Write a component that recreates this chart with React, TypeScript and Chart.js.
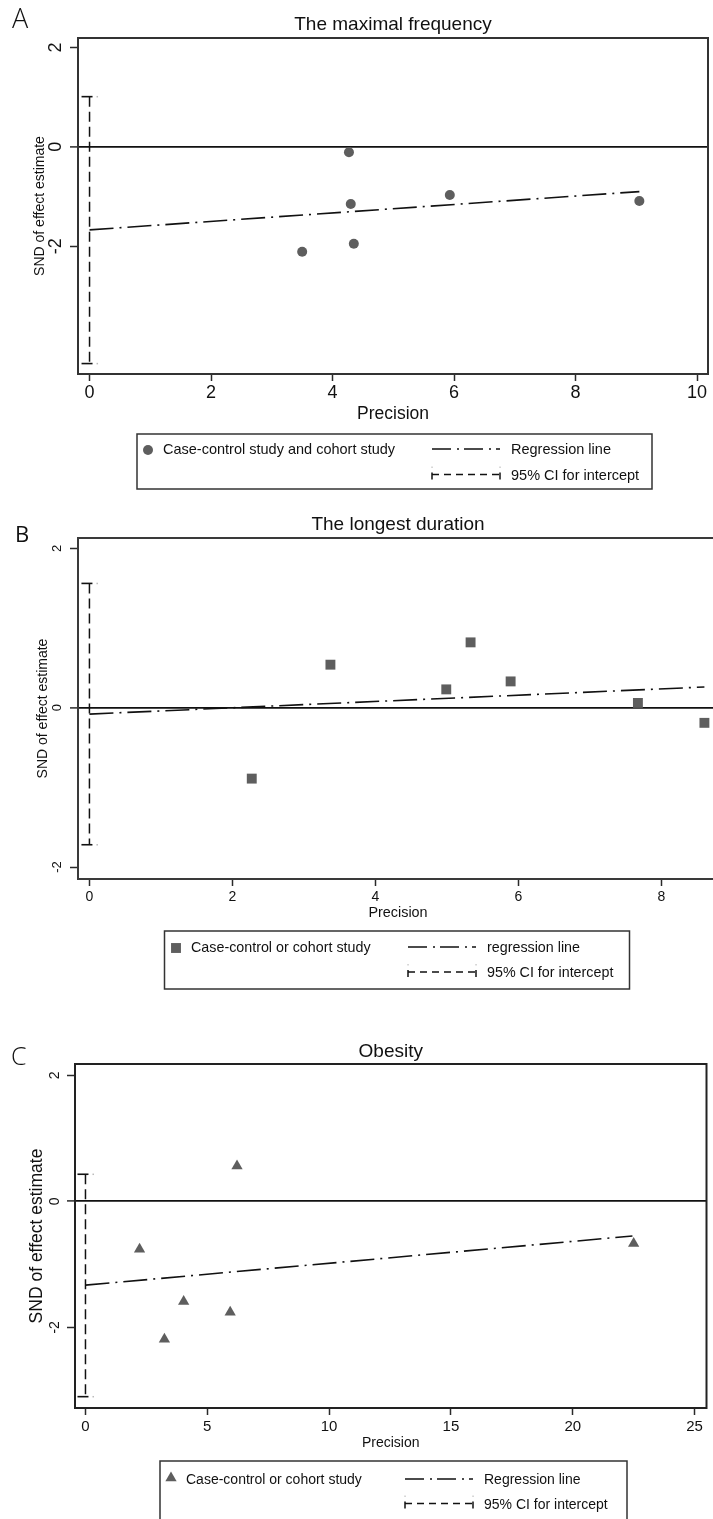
import React, { useEffect, useRef } from 'react';
import { Chart, registerables } from 'chart.js';

Chart.register(...registerables);

const FONT = "'Liberation Sans', Arial, Helvetica, sans-serif";
const LETTER_FONT = "'Open Sans', Lato, 'DejaVu Sans', sans-serif";
const TEXT = '#111111';
const AXIS = '#2a2a2a';
const MARKER = '#5e5e5e';
const CI_X = 0;

// ---------- Panel A : The maximal frequency ----------
const titleA = 'The maximal frequency';
const precisionA = [4.27, 5.93, 4.30, 9.05, 3.50, 4.35];
const sndA = [-0.11, -0.97, -1.15, -1.09, -2.11, -1.95];
const regressionXA = [0, 9.05];
const regressionYA = [-1.67, -0.90];
const ciInterceptA = [1.01, -4.36];
const xTicksA = [0, 2, 4, 6, 8, 10];
const yTicksA = [-2, 0, 2];
const legendA = ['Case-control study and cohort study', 'Regression line', '95% CI for intercept'];

// ---------- Panel B : The longest duration ----------
const titleB = 'The longest duration';
const precisionB = [3.37, 5.33, 4.99, 5.89, 7.67, 8.60, 2.27];
const sndB = [0.54, 0.82, 0.23, 0.33, 0.06, -0.19, -0.89];
const regressionXB = [0, 8.6];
const regressionYB = [-0.08, 0.26];
const ciInterceptB = [1.56, -1.72];
const xTicksB = [0, 2, 4, 6, 8];
const yTicksB = [-2, 0, 2];
const legendB = ['Case-control or cohort study', 'regression line', '95% CI for intercept'];

// ---------- Panel C : Obesity ----------
const titleC = 'Obesity';
const precisionC = [6.22, 2.22, 22.50, 4.03, 5.94, 3.24];
const sndC = [0.56, -0.76, -0.67, -1.59, -1.76, -2.19];
const regressionXC = [0, 22.45];
const regressionYC = [-1.33, -0.55];
const ciInterceptC = [0.43, -3.10];
const xTicksC = [0, 5, 10, 15, 20, 25];
const yTicksC = [-2, 0, 2];
const legendC = ['Case-control or cohort study', 'Regression line', '95% CI for intercept'];

const X_TITLE = 'Precision';
const Y_TITLE = 'SND of effect estimate';

// ---------- layout / style per panel ----------
const layoutA = {
  top: 0, width: 713, height: 500,
  area: { left: 78, top: 38, right: 711, bottom: 374 },
  xRange: [-0.19, 10.18], yRange: [-4.57, 2.19],
  marker: 'circle', markerRadius: 5,
  xTickFont: 18, yTickFont: 18, xTickPad: 1.7, yTickPad: 5.5, xTickLen: 7, yTickLen: 8,
  xTitleFont: 17.5, xTitleCenter: 414.5, yTitleFont: 14, yTitleCenter: 40,
  titleFont: 19, titleBaseline: 30,
  letter: 'A', letterX: 12, letterBaseline: 28, letterFont: 27, letterWeight: 300,
  borderColor: '#333',
  legend: { x: 137, y: 434, w: 515, h: 55, markerX: 148, markerY: 450, row1: 450, row2: 476, textX: 163, s1: 432, s2: 500, text2X: 511, font: 14.5 },
};
const layoutB = {
  top: 500, width: 725, height: 500,
  area: { left: 78, top: 38, right: 718, bottom: 379 },
  xRange: [-0.16, 8.79], yRange: [-2.15, 2.13],
  marker: 'rect', markerRadius: 7,
  xTickFont: 14, yTickFont: 13, xTickPad: 3.1, yTickPad: 7.2, xTickLen: 7, yTickLen: 8,
  xTitleFont: 14.4, xTitleCenter: 413, yTitleFont: 14, yTitleCenter: 43,
  titleFont: 19, titleBaseline: 30,
  letter: 'B', letterX: 15, letterBaseline: 42, letterFont: 22, letterWeight: 400,
  borderColor: '#3a3a3a',
  legend: { x: 164.5, y: 431, w: 465, h: 58, markerX: 176, markerY: 448, row1: 448, row2: 473.5, textX: 191, s1: 408, s2: 476, text2X: 487, font: 14.3 },
};
const layoutC = {
  top: 1000, width: 713, height: 519,
  area: { left: 75, top: 64, right: 711, bottom: 408 },
  xRange: [-0.43, 25.49], yRange: [-3.28, 2.18],
  marker: 'triangle', markerRadius: 6.5,
  xTickFont: 15, yTickFont: 14, xTickPad: 2.7, yTickPad: 5.3, xTickLen: 7, yTickLen: 8,
  xTitleFont: 14, xTitleCenter: 443, yTitleFont: 17.5, yTitleCenter: 37.5,
  titleFont: 19, titleBaseline: 57,
  letter: 'C', letterX: 11, letterBaseline: 65, letterFont: 25, letterWeight: 300,
  borderColor: '#222',
  legend: { x: 160, y: 461, w: 467, h: 120, markerX: 171, markerY: 478, row1: 480, row2: 505, textX: 186, s1: 405, s2: 473, text2X: 484, font: 14 },
};

const panels = [
  { title: titleA, xs: precisionA, ys: sndA, regX: regressionXA, regY: regressionYA, ci: ciInterceptA, xTicks: xTicksA, yTicks: yTicksA, legend: legendA, layout: layoutA },
  { title: titleB, xs: precisionB, ys: sndB, regX: regressionXB, regY: regressionYB, ci: ciInterceptB, xTicks: xTicksB, yTicks: yTicksB, legend: legendB, layout: layoutB },
  { title: titleC, xs: precisionC, ys: sndC, regX: regressionXC, regY: regressionYC, ci: ciInterceptC, xTicks: xTicksC, yTicks: yTicksC, legend: legendC, layout: layoutC },
];

function drawMarker(ctx: CanvasRenderingContext2D, style: string, x: number, y: number, r: number) {
  ctx.beginPath();
  if (style === 'circle') {
    ctx.arc(x, y, r, 0, Math.PI * 2);
  } else if (style === 'rect') {
    const h = r * Math.SQRT1_2;
    ctx.rect(x - h, y - h, 2 * h, 2 * h);
  } else {
    const s = r * Math.sin(Math.PI / 3);
    ctx.moveTo(x, y - r);
    ctx.lineTo(x + s, y + r / 2);
    ctx.lineTo(x - s, y + r / 2);
    ctx.closePath();
  }
  ctx.fill();
}

const decorPlugin = {
  id: 'decor',
  afterDatasetsDraw(chart: any, _args: any, opts: any) {
    const { ctx } = chart;
    const xs = chart.scales.x;
    const ys = chart.scales.y;
    const cx = xs.getPixelForValue(opts.ciX);
    ctx.save();
    ctx.lineWidth = 1.6;
    opts.ciValues.forEach((v: number) => {
      const py = ys.getPixelForValue(v);
      ctx.strokeStyle = '#111';
      ctx.beginPath();
      ctx.moveTo(cx - 8, py);
      ctx.lineTo(cx + 3, py);
      ctx.stroke();
      ctx.fillStyle = '#bbb';
      ctx.fillRect(cx + 7, py - 0.7, 1.5, 1.5);
    });
    ctx.restore();
  },
  afterDraw(chart: any, _args: any, opts: any) {
    const { ctx, chartArea: a } = chart;
    ctx.save();
    // plot region frame
    ctx.strokeStyle = opts.borderColor;
    ctx.lineWidth = 2;
    ctx.strokeRect(a.left, a.top, a.right - a.left, a.bottom - a.top);

    // title
    ctx.fillStyle = TEXT;
    ctx.textAlign = 'center';
    ctx.textBaseline = 'alphabetic';
    ctx.font = `${opts.titleFont}px ${FONT}`;
    ctx.fillText(opts.title, (a.left + a.right) / 2, opts.titleBaseline);

    // panel letter
    ctx.textAlign = 'left';
    ctx.font = `${opts.letterWeight} ${opts.letterFont}px ${LETTER_FONT}`;
    ctx.fillText(opts.letter, opts.letterX, opts.letterBaseline);

    // legend
    const L = opts.legendBox;
    ctx.strokeStyle = '#333';
    ctx.lineWidth = 1.5;
    ctx.strokeRect(L.x, L.y, L.w, L.h);

    ctx.fillStyle = MARKER;
    drawMarker(ctx, opts.marker, L.markerX, L.markerY, opts.markerRadius);

    ctx.fillStyle = TEXT;
    ctx.textBaseline = 'middle';
    ctx.textAlign = 'left';
    ctx.font = `${L.font}px ${FONT}`;
    ctx.fillText(opts.labels[0], L.textX, L.row1);
    ctx.fillText(opts.labels[1], L.text2X, L.row1);
    ctx.fillText(opts.labels[2], L.text2X, L.row2);

    // regression line sample
    ctx.strokeStyle = '#111';
    ctx.lineWidth = 1.6;
    ctx.setLineDash([19, 6, 2, 5]);
    ctx.beginPath();
    ctx.moveTo(L.s1, L.row1 - 1);
    ctx.lineTo(L.s2, L.row1 - 1);
    ctx.stroke();

    // CI sample
    const ly = L.row2 - 1.5;
    ctx.setLineDash([7, 5]);
    ctx.beginPath();
    ctx.moveTo(L.s1, ly);
    ctx.lineTo(L.s2, ly);
    ctx.stroke();
    ctx.setLineDash([]);
    ctx.lineWidth = 1.5;
    [L.s1, L.s2].forEach((sx: number) => {
      ctx.strokeStyle = '#111';
      ctx.beginPath();
      ctx.moveTo(sx, ly - 2);
      ctx.lineTo(sx, ly + 5);
      ctx.stroke();
      ctx.fillStyle = '#ccc';
      ctx.fillRect(sx - 0.7, ly - 8, 1.5, 1.5);
    });
    ctx.restore();
  },
};

function buildConfig(p: any) {
  const L = p.layout;
  const xTitleLH = L.xTitleFont * 1.2;
  const xh = L.xTitleCenter - L.area.bottom + xTitleLH / 2;
  const yTitleLH = L.yTitleFont * 1.2;
  return {
    type: 'scatter',
    data: {
      datasets: [
        {
          label: p.legend[0],
          data: p.xs.map((x: number, i: number) => ({ x, y: p.ys[i] })),
          pointStyle: L.marker,
          pointRadius: L.markerRadius,
          pointHoverRadius: L.markerRadius,
          backgroundColor: MARKER,
          borderColor: MARKER,
          pointBorderWidth: 0,
          showLine: false,
        },
        {
          label: p.legend[1],
          data: p.regX.map((x: number, i: number) => ({ x, y: p.regY[i] })),
          showLine: true,
          fill: false,
          pointRadius: 0,
          borderColor: '#111',
          borderWidth: 1.6,
          borderDash: [24, 6, 2, 6],
        },
        {
          label: p.legend[2],
          data: p.ci.map((y: number) => ({ x: CI_X, y })),
          showLine: true,
          fill: false,
          pointRadius: 0,
          borderColor: '#111',
          borderWidth: 1.5,
          borderDash: [10, 5],
        },
      ],
    },
    options: {
      responsive: false,
      animation: false,
      devicePixelRatio: 1,
      events: [],
      layout: {
        padding: {
          left: 0,
          top: L.area.top,
          right: L.width - L.area.right,
          bottom: L.height - L.area.bottom - xh,
        },
      },
      plugins: {
        legend: { display: false },
        tooltip: { enabled: false },
        title: { display: false },
        decor: {
          title: p.title,
          titleFont: L.titleFont,
          titleBaseline: L.titleBaseline,
          letter: L.letter,
          letterX: L.letterX,
          letterBaseline: L.letterBaseline,
          letterFont: L.letterFont,
          letterWeight: L.letterWeight,
          borderColor: L.borderColor,
          legendBox: L.legend,
          labels: p.legend,
          marker: L.marker,
          markerRadius: L.markerRadius,
          ciX: CI_X,
          ciValues: p.ci,
        },
      },
      scales: {
        x: {
          type: 'linear',
          position: 'bottom',
          min: L.xRange[0],
          max: L.xRange[1],
          afterBuildTicks: (s: any) => { s.ticks = p.xTicks.map((value: number) => ({ value })); },
          afterFit: (s: any) => { s.height = xh; },
          border: { display: false },
          grid: { drawOnChartArea: false, tickLength: L.xTickLen, tickColor: AXIS, tickWidth: 1.5 },
          ticks: {
            autoSkip: false, maxRotation: 0, minRotation: 0,
            padding: L.xTickPad,
            color: TEXT,
            font: { family: FONT, size: L.xTickFont },
            callback: (v: any) => String(v),
          },
          title: { display: true, text: X_TITLE, color: TEXT, font: { family: FONT, size: L.xTitleFont }, padding: 0 },
        },
        y: {
          type: 'linear',
          position: 'left',
          min: L.yRange[0],
          max: L.yRange[1],
          afterBuildTicks: (s: any) => { s.ticks = p.yTicks.map((value: number) => ({ value })); },
          afterFit: (s: any) => { s.width = L.area.left; },
          border: { display: false },
          grid: {
            color: (c: any) => (c.tick && c.tick.value === 0 ? '#111' : 'rgba(0,0,0,0)'),
            lineWidth: (c: any) => (c.tick && c.tick.value === 0 ? 1.8 : 1),
            tickLength: L.yTickLen, tickColor: AXIS, tickWidth: 1.5,
          },
          ticks: {
            autoSkip: false, minRotation: 90, maxRotation: 90, crossAlign: 'center',
            padding: L.yTickPad,
            color: TEXT,
            font: { family: FONT, size: L.yTickFont },
            callback: (v: any) => String(v),
          },
          title: {
            display: true, text: Y_TITLE, color: TEXT,
            font: { family: FONT, size: L.yTitleFont },
            padding: { top: L.yTitleCenter - yTitleLH / 2, bottom: 0 },
          },
        },
      },
    },
    plugins: [decorPlugin],
  };
}

function Panel({ p }: { p: any }) {
  const ref = useRef<HTMLCanvasElement>(null);
  useEffect(() => {
    if (!ref.current) return;
    const chart = new Chart(ref.current, buildConfig(p) as any);
    return () => chart.destroy();
  }, [p]);
  const L = p.layout;
  return (
    <canvas
      ref={ref}
      width={L.width}
      height={L.height}
      style={{ position: 'absolute', left: 0, top: L.top, width: L.width, height: L.height }}
    />
  );
}

export default function App() {
  return (
    <div style={{ position: 'absolute', left: 0, top: 0, width: 713, height: 1519, overflow: 'hidden', background: '#fff' }}>
      {panels.map((p, i) => <Panel key={i} p={p} />)}
    </div>
  );
}
